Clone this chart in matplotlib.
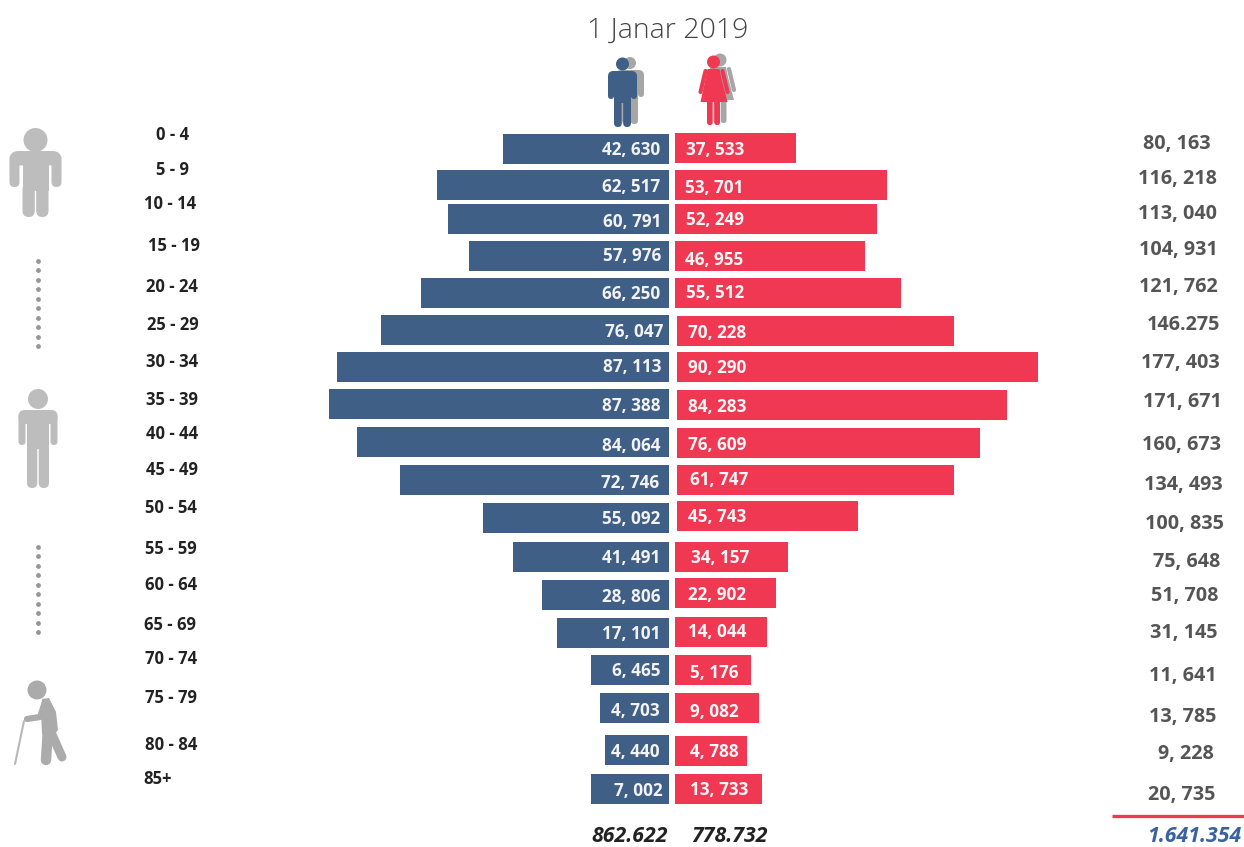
import numpy as np
import matplotlib
matplotlib.use('Agg')
import matplotlib.pyplot as plt
from matplotlib.patches import Circle, FancyBboxPatch, Polygon, Rectangle

plt.rcParams['font.family'] = ['Open Sans', 'DejaVu Sans']

# ===== data =====
age_groups = ['0 - 4', '5 - 9', '10 - 14', '15 - 19', '20 - 24', '25 - 29', '30 - 34', '35 - 39', '40 - 44',
              '45 - 49', '50 - 54', '55 - 59', '60 - 64', '65 - 69', '70 - 74', '75 - 79', '80 - 84', '85+']
male_labels = ['42, 630', '62, 517', '60, 791', '57, 976', '66, 250', '76, 047', '87, 113', '87, 388', '84, 064',
               '72, 746', '55, 092', '41, 491', '28, 806', '17, 101', '6, 465', '4, 703', '4, 440', '7, 002']
female_labels = ['37, 533', '53, 701', '52, 249', '46, 955', '55, 512', '70, 228', '90, 290', '84, 283', '76, 609',
                 '61, 747', '45, 743', '34, 157', '22, 902', '14, 044', '5, 176', '9, 082', '4, 788', '13, 733']
total_labels = ['80, 163', '116, 218', '113, 040', '104, 931', '121, 762', '146.275', '177, 403', '171, 671',
                '160, 673', '134, 493', '100, 835', '75, 648', '51, 708', '31, 145', '11, 641', '13, 785',
                '9, 228', '20, 735']

# bar lengths as drawn in the picture (thousands), they do not follow the labels exactly
male_bars = [42.7, 59.6, 56.8, 51.4, 63.8, 74.0, 85.3, 87.4, 80.2, 69.2, 47.8, 40.1, 32.6, 28.8, 20.1, 17.7, 16.5, 20.1]
female_bars = [31.1, 54.5, 51.9, 48.8, 58.1, 71.2, 92.8, 84.8, 77.9, 71.2, 46.5, 29.0, 26.0, 23.7, 19.5, 21.6, 18.5, 22.4]

male_sum = '862.622'
female_sum = '778.732'
grand_sum = '1.641.354'

# ===== layout (pixels) =====
W, H = 1244, 847
CENTER = 672
PX_PER_K = 3.89
BLUE = '#3F5F87'
RED = '#F03853'
GREY = '#BDBDBD'
TEXT_DY = 1

male_y = [149, 185, 219, 256, 293, 330, 367, 404, 442, 480, 518, 557, 595, 633, 670, 708, 750, 789]
female_y = [148.5, 185, 219, 256, 293, 331, 367, 405, 443.5, 480.5, 516, 557, 593, 632, 670, 708, 751, 789]
female_left = [675, 675, 675, 675, 675, 677, 677, 677, 677, 677, 677, 675, 675, 675, 675, 675, 675, 675]

male_lab_y = [149, 186, 221, 255, 293, 331, 366, 405, 445, 482, 518, 557, 596, 633, 670, 710, 751, 790]
male_lab_x = [660, 660, 661, 661, 660, 663, 661, 661, 661, 659, 660, 660, 660, 660, 660, 660, 660, 663]
female_lab_y = [149, 187, 219, 259, 292, 332, 367, 406, 444, 479, 516, 557, 594, 631, 672, 711, 751, 789]
female_lab_x = [686, 685, 686, 685, 686, 688, 688, 688, 688, 690, 688, 691, 688, 688, 690, 690, 690, 690]

age_x = [173, 173, 170, 174, 172, 173, 172, 172, 172, 172, 171, 171, 171, 170, 171, 171, 171, 158]
age_y = [134, 169, 203, 245, 286, 324, 361, 399, 433, 469, 507, 548, 584, 624, 658, 697, 744, 778]
total_x = [1177, 1177, 1178, 1178, 1178, 1183, 1180, 1182, 1182, 1183, 1184, 1187, 1185, 1184, 1183, 1183, 1186, 1182]
total_y = [143, 178, 213, 249, 286, 324, 362, 401, 444, 484, 523, 561, 595, 632, 675, 716, 753, 794]

fig = plt.figure(figsize=(W / 100, H / 100), dpi=100)

# ===== bars: x in thousands, y in pixels =====
ax = fig.add_axes([0, 0, 1, 1])
ax.set_xlim(-CENTER / PX_PER_K, (W - CENTER) / PX_PER_K)
ax.set_ylim(H, 0)
ax.axis('off')
ax.barh(male_y, -np.array(male_bars), left=-3 / PX_PER_K, height=30, color=BLUE)
ax.barh(female_y, female_bars, left=(np.array(female_left) - CENTER) / PX_PER_K, height=30, color=RED)

# ===== everything else in pixels =====
px = fig.add_axes([0, 0, 1, 1])
px.set_xlim(0, W)
px.set_ylim(H, 0)
px.axis('off')
px.patch.set_alpha(0)


def rrect(x0, y0, x1, y1, r, color, z=3):
    px.add_patch(FancyBboxPatch((x0 + r, y0 + r), x1 - x0 - 2 * r, y1 - y0 - 2 * r,
                                boxstyle=f'round,pad={r},rounding_size={r}', fc=color, ec='none', zorder=z))


def man(cx, head_y, head_r, half_w, arm_w, leg_half, top, arm_end, foot, color, z=3):
    px.add_patch(Circle((cx, head_y), head_r, fc=color, ec='none', zorder=z))
    rrect(cx - half_w, top, cx + half_w, top + (arm_end - top) * 0.4, arm_w * 0.9, color, z)
    rrect(cx - half_w, top + 3, cx - half_w + arm_w, arm_end, arm_w / 2, color, z)
    rrect(cx + half_w - arm_w, top + 3, cx + half_w, arm_end, arm_w / 2, color, z)
    px.add_patch(Rectangle((cx - leg_half, top + 3), 2 * leg_half, (arm_end - top) + 1, fc=color, ec='none', zorder=z))
    rrect(cx - leg_half, arm_end - 4, cx - 0.7, foot, (leg_half - 0.7) / 2, color, z)
    rrect(cx + 0.7, arm_end - 4, cx + leg_half, foot, (leg_half - 0.7) / 2, color, z)


def woman(cx, head_y, color, z=3):
    px.add_patch(Circle((cx, head_y), 6.5, fc=color, ec='none', zorder=z))
    top = head_y + 7
    px.add_patch(Polygon([(cx - 6, top), (cx + 6, top), (cx + 8, top + 10), (cx + 14, top + 33),
                          (cx - 13, top + 33), (cx - 8, top + 10)], fc=color, ec='none', zorder=z))
    px.plot([cx - 8, cx - 13], [top + 2, top + 23], color=color, lw=3, solid_capstyle='round', zorder=z)
    px.plot([cx + 9, cx + 14], [top + 2, top + 23], color=color, lw=3, solid_capstyle='round', zorder=z)
    rrect(cx - 6.5, top + 30, cx - 0.8, head_y + 63, 2.5, color, z)
    rrect(cx + 0.8, top + 30, cx + 6.5, head_y + 63, 2.5, color, z)


# header icons
man(630, 63, 6, 14, 6, 8, 70, 97, 124, '#A6A6A6', 3)
man(622.5, 64, 6.5, 14.5, 6, 8.5, 71, 99, 127, BLUE, 4)
woman(720, 60, '#A6A6A6', 3)
woman(713.5, 62, RED, 4)

# side icons
man(35.5, 140, 12, 26, 10, 13, 151, 187, 217, GREY)
man(38, 399, 10, 19.5, 7, 11, 410, 445, 488, GREY)

# old man
OLD = '#ABABAB'
px.add_patch(Circle((37, 690), 9.5, fc=OLD, ec='none'))
px.add_patch(Polygon([(42, 699), (49, 698), (56, 712), (58, 730), (52, 738), (42, 734), (41, 712)], fc=OLD, ec='none'))
px.plot([48, 46], [728, 760], color=OLD, lw=7.5, solid_capstyle='round')
px.plot([50, 62], [730, 757], color=OLD, lw=6.5, solid_capstyle='round')
px.plot([45, 40, 27], [702, 717, 719], color=OLD, lw=4.5, solid_capstyle='round', solid_joinstyle='round')
px.plot([24, 15], [721, 764], color='#B8B8B8', lw=1.5, solid_capstyle='round')

# dotted connectors
for start, end in [(261, 346), (547, 632)]:
    px.scatter(np.full(10, 38), np.linspace(start, end, 10), s=12, color='#969696', linewidths=0)

# ===== text =====
px.text(668, 31, '1 Janar 2019', ha='center', va='center', fontsize=20.5, color='#444444', fontweight='light')

for i in range(len(age_groups)):
    px.text(age_x[i], age_y[i] + TEXT_DY, age_groups[i], ha='center', va='center', fontsize=12,
            fontweight='bold', color='#222222')
    px.text(male_lab_x[i], male_lab_y[i] + TEXT_DY, male_labels[i], ha='right', va='center', fontsize=12.3,
            fontweight='bold', color='#F2F2F2', zorder=6)
    px.text(female_lab_x[i], female_lab_y[i] + TEXT_DY, female_labels[i], ha='left', va='center', fontsize=12.3,
            fontweight='bold', color='#F7F7F7', zorder=6)
    px.text(total_x[i], total_y[i] + TEXT_DY, total_labels[i], ha='center', va='center', fontsize=14.2,
            fontweight='bold', color='#555555')

px.plot([1112, 1244], [816, 816], color=RED, lw=2.4, solid_capstyle='butt')
px.text(630, 836, male_sum, ha='center', va='center', fontsize=15.3, fontweight='bold', fontstyle='italic', color='#222222')
px.text(729, 836, female_sum, ha='center', va='center', fontsize=15.3, fontweight='bold', fontstyle='italic', color='#222222')
px.text(1194, 837, grand_sum, ha='center', va='center', fontsize=15.3, fontweight='bold', fontstyle='italic', color='#3A62A0')

fig.savefig('out.png', dpi=100)
